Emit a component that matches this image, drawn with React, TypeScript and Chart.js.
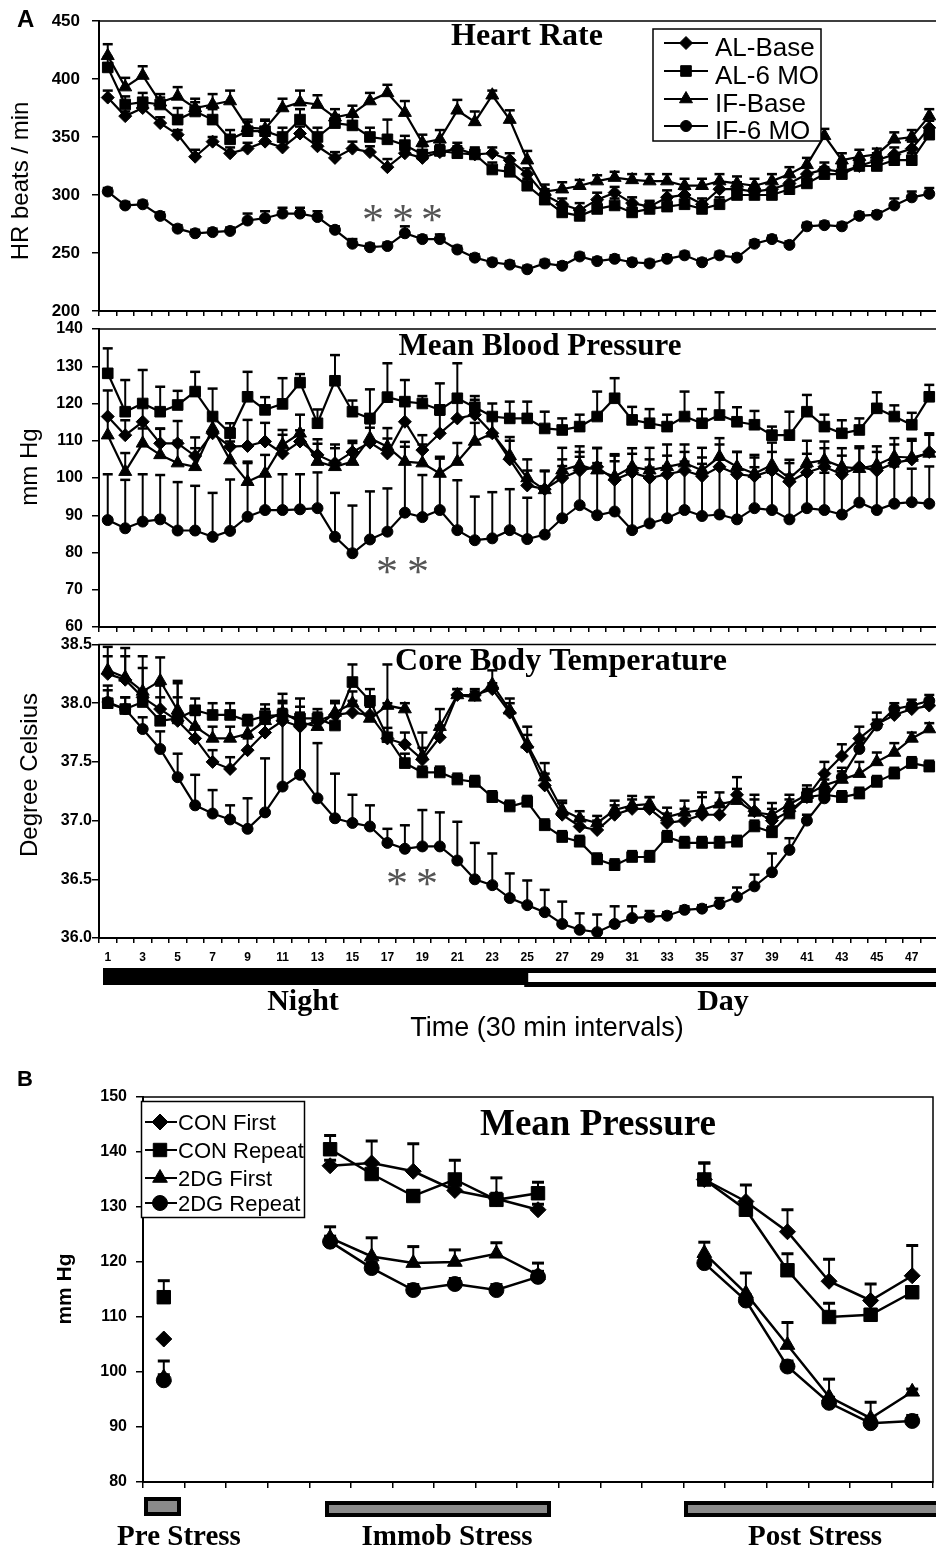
import React, { useEffect, useRef } from 'react';
import { Chart, registerables } from 'chart.js';

Chart.register(...registerables);

const SANS = '"Liberation Sans", Arial, Helvetica, sans-serif';
const SERIF = '"Liberation Serif", "Times New Roman", Times, serif';
Chart.defaults.font.family = SANS;

// ---------------- Panel A data ----------------
const timeLabels = ['1', '2', '3', '4', '5', '6', '7', '8', '9', '10', '11', '12', '13', '14', '15', '16', '17', '18', '19', '20', '21', '22', '23', '24', '25', '26', '27', '28', '29', '30', '31', '32', '33', '34', '35', '36', '37', '38', '39', '40', '41', '42', '43', '44', '45', '46', '47', '48'];
const seriesA = ['AL-Base', 'AL-6 MO', 'IF-Base', 'IF-6 MO'];

// Heart rate (beats / min)
const hrALBase = [384, 368, 375, 362, 352, 333, 346, 336, 340, 346, 341, 353, 342, 332, 340, 337, 324, 336, 332, 337, 340, 335, 336, 330, 318, 300, 292, 287, 296, 302, 293, 290, 298, 300, 292, 305, 305, 303, 305, 310, 318, 322, 320, 325, 330, 335, 340, 358];
const hrALBaseErr = [6, 4, 5, 5, 4, 6, 4, 5, 5, 6, 5, 6, 5, 5, 6, 5, 7, 5, 5, 6, 5, 5, 5, 6, 5, 5, 5, 6, 6, 5, 5, 5, 6, 5, 5, 6, 6, 5, 6, 6, 6, 6, 6, 6, 6, 6, 6, 6];
const hrAL6MO = [410, 378, 380, 378, 365, 372, 365, 348, 355, 355, 350, 365, 350, 362, 360, 350, 348, 343, 335, 338, 336, 335, 322, 320, 308, 296, 285, 282, 288, 291, 285, 288, 290, 292, 288, 292, 300, 300, 300, 305, 310, 318, 318, 325, 325, 330, 330, 352];
const hrAL6MOErr = [9, 7, 8, 6, 10, 8, 9, 8, 8, 9, 8, 9, 8, 7, 8, 8, 17, 8, 7, 8, 6, 6, 6, 6, 6, 6, 6, 6, 6, 6, 6, 6, 6, 6, 6, 6, 6, 6, 6, 6, 6, 6, 6, 6, 6, 6, 6, 6];
const hrIFBase = [420, 393, 403, 380, 385, 375, 378, 381, 358, 357, 375, 380, 378, 367, 370, 381, 388, 371, 345, 348, 373, 363, 386, 365, 330, 303, 305, 308, 312, 315, 313, 312, 312, 308, 308, 312, 310, 308, 312, 318, 326, 351, 330, 333, 335, 348, 350, 368];
const hrIFBaseErr = [10, 8, 8, 7, 8, 8, 9, 9, 7, 8, 8, 10, 8, 7, 7, 7, 7, 10, 7, 8, 9, 9, 4, 8, 8, 6, 6, 5, 5, 5, 5, 6, 6, 6, 6, 6, 6, 6, 6, 6, 6, 6, 6, 6, 5, 6, 6, 6];
const hrIF6MO = [303, 291, 292, 282, 271, 267, 268, 269, 278, 280, 284, 284, 281, 270, 258, 255, 256, 267, 262, 262, 253, 246, 242, 240, 236, 241, 239, 247, 243, 245, 242, 241, 245, 248, 242, 248, 246, 258, 262, 257, 273, 274, 273, 282, 283, 291, 298, 301];
const hrIF6MOErr = [3, 3, 3, 3, 3, 3, 3, 3, 6, 6, 5, 5, 5, 3, 4, 3, 3, 6, 3, 4, 3, 3, 3, 3, 3, 3, 3, 3, 3, 3, 3, 3, 3, 3, 3, 3, 3, 3, 3, 3, 3, 3, 3, 3, 3, 6, 5, 5];

// Mean blood pressure (mm Hg)
const bpALBase = [116.5, 111.5, 115.1, 109.3, 109.3, 105.9, 112, 108.4, 108.6, 109.8, 106.6, 109.8, 106.2, 104, 107, 109.5, 106.6, 115.1, 107.5, 112, 116, 117, 112, 105, 98, 97, 100, 102, 103, 99.5, 101.5, 100, 101, 102, 100.5, 103, 101, 100.5, 102, 99, 101.5, 103, 101, 103, 102, 104, 105, 107];
const bpALBaseErr = [7, 4, 5, 4, 6, 5, 4, 5, 7, 5, 5, 3, 3, 4, 3, 4, 4, 6, 4, 5, 6, 4, 5, 5, 4, 5, 5, 5, 5, 5, 5, 5, 5, 5, 5, 6, 6, 5, 5, 5, 5, 5, 5, 5, 5, 5, 5, 5];
const bpAL6MO = [128.1, 117.8, 120, 117.8, 119.6, 123.2, 116.5, 112, 121.8, 118.3, 119.9, 125.6, 114.7, 126.1, 117.8, 116, 121.7, 120.5, 120, 118.3, 121.4, 119, 116.5, 116, 116, 113.3, 112.9, 113.8, 116.5, 121.4, 115.6, 114.7, 113.8, 116.5, 114.7, 116.9, 115.1, 114.3, 111.5, 111.5, 117.8, 113.8, 112, 112.9, 118.7, 116.5, 114.3, 121.8];
const bpAL6MOErr = [6.7, 8.5, 9, 6.7, 3.8, 5.3, 7.5, 2.7, 6.7, 3.4, 6.9, 2.3, 3.7, 6.9, 3, 7.8, 9.1, 5.8, 2, 7.1, 9.4, 3, 3.5, 4.5, 4.5, 4.5, 3.1, 3.2, 6.7, 5.4, 3.5, 3.8, 3.2, 6.7, 3.8, 6.1, 3.9, 3.7, 2.3, 6.3, 4.5, 3.2, 3.5, 3.1, 4.3, 3, 3.2, 3.2];
const bpIFBase = [111.5, 101.7, 109.3, 106.2, 104, 103, 113.3, 104.8, 99, 101.2, 108.9, 112, 104.4, 103, 104.4, 110.7, 108.4, 104.4, 104, 101.2, 104.4, 109.8, 112, 106, 100, 96.8, 102.1, 103.5, 102.1, 100.4, 103, 102.1, 103, 104, 102.1, 105.7, 103, 101.2, 103.5, 99.9, 104, 104.8, 103, 102.5, 103.5, 105.7, 105.5, 106.6];
const bpIFBaseErr = [5, 5, 4, 7, 6, 5, 4, 5, 5, 5, 4, 5, 6, 6, 5, 4, 5, 4, 5, 4, 5, 5, 5, 5, 5, 5, 6, 5, 6, 6, 5, 6, 6, 5, 6, 5, 4, 5, 6, 5, 6, 5, 5, 6, 5, 5, 5, 5];
const bpIF6MO = [88.7, 86.5, 88.3, 88.9, 85.9, 85.9, 84.2, 85.8, 89.6, 91.4, 91.4, 91.6, 91.9, 84.2, 79.8, 83.5, 85.6, 90.7, 89.5, 91.4, 86, 83.3, 83.8, 86, 83.6, 84.8, 89.2, 92.7, 90, 91, 86, 87.8, 89.2, 91.4, 89.8, 90.2, 88.9, 91.9, 91.4, 88.9, 91.9, 91.4, 90.2, 93.4, 91.4, 93.1, 93.5, 93.1];
const bpIF6MOErr = [12.3, 13, 12.7, 11.9, 13, 12, 11.8, 13.8, 14.8, 9.6, 9.6, 9.4, 9.6, 11.8, 12.8, 12.9, 11.6, 19, 11.3, 14.3, 13.4, 11.7, 12.4, 11, 11.1, 13, 14, 13, 14, 15, 17, 15, 14, 13, 14, 13, 14, 11, 10, 12, 11, 10, 11, 9, 12, 10, 9, 10];

// Core body temperature (degree Celsius)
const tALBase = [38.25, 38.2, 38.05, 37.95, 37.85, 37.7, 37.5, 37.44, 37.6, 37.75, 37.85, 37.8, 37.85, 37.9, 37.92, 37.9, 37.7, 37.65, 37.52, 37.71, 38.07, 38.07, 38.12, 37.92, 37.63, 37.3, 37.05, 36.95, 36.92, 37.05, 37.1, 37.1, 36.98, 37, 37.05, 37.05, 37.22, 37.08, 37, 37.08, 37.2, 37.4, 37.55, 37.7, 37.82, 37.9, 37.95, 37.98];
const tALBaseErr = [0.15, 0.2, 0.25, 0.2, 0.2, 0.1, 0.1, 0.1, 0.1, 0.1, 0.1, 0.1, 0.1, 0.1, 0.1, 0.1, 0.3, 0.1, 0.1, 0.1, 0.05, 0.05, 0.05, 0.08, 0.1, 0.1, 0.1, 0.08, 0.08, 0.08, 0.08, 0.1, 0.08, 0.1, 0.15, 0.1, 0.15, 0.1, 0.1, 0.1, 0.1, 0.1, 0.1, 0.1, 0.1, 0.05, 0.05, 0.05];
const tAL6MO = [38, 37.95, 38.01, 37.85, 37.87, 37.94, 37.9, 37.9, 37.85, 37.89, 37.9, 37.87, 37.87, 37.81, 38.18, 38.02, 37.71, 37.49, 37.41, 37.41, 37.35, 37.33, 37.2, 37.12, 37.16, 36.96, 36.86, 36.82, 36.67, 36.62, 36.69, 36.69, 36.86, 36.81, 36.81, 36.81, 36.82, 36.95, 36.9, 37.06, 37.2, 37.22, 37.2, 37.23, 37.33, 37.4, 37.49, 37.46];
const tAL6MOErr = [0.15, 0.1, 0.1, 0.2, 0.3, 0.1, 0.1, 0.1, 0.05, 0.1, 0.1, 0.05, 0.05, 0.08, 0.15, 0.1, 0.08, 0.08, 0.05, 0.05, 0.05, 0.05, 0.05, 0.05, 0.05, 0.05, 0.05, 0.05, 0.05, 0.05, 0.05, 0.05, 0.05, 0.05, 0.05, 0.05, 0.05, 0.05, 0.05, 0.05, 0.05, 0.05, 0.05, 0.05, 0.05, 0.05, 0.05, 0.05];
const tIFBase = [38.28, 38.22, 38.1, 38.19, 37.94, 37.8, 37.7, 37.7, 37.74, 37.85, 37.92, 37.84, 37.8, 37.92, 38, 37.87, 37.98, 37.95, 37.55, 37.8, 38.07, 38.05, 38.16, 37.94, 37.65, 37.37, 37.09, 37.02, 36.98, 37.09, 37.13, 37.14, 37.03, 37.07, 37.09, 37.14, 37.17, 37.07, 37.05, 37.14, 37.22, 37.3, 37.35, 37.4, 37.5, 37.58, 37.7, 37.78];
const tIFBaseErr = [0.2, 0.25, 0.3, 0.2, 0.25, 0.1, 0.1, 0.1, 0.1, 0.1, 0.1, 0.2, 0.1, 0.1, 0.1, 0.1, 0.35, 0.05, 0.2, 0.15, 0.05, 0.05, 0.12, 0.1, 0.15, 0.12, 0.08, 0.06, 0.06, 0.08, 0.08, 0.06, 0.08, 0.1, 0.15, 0.1, 0.1, 0.15, 0.1, 0.08, 0.05, 0.05, 0.1, 0.1, 0.08, 0.08, 0.05, 0.05];
const tIF6MO = [38.01, 37.95, 37.78, 37.61, 37.37, 37.13, 37.06, 37.01, 36.93, 37.07, 37.29, 37.39, 37.19, 37.02, 36.98, 36.95, 36.81, 36.76, 36.78, 36.78, 36.66, 36.5, 36.45, 36.34, 36.28, 36.22, 36.12, 36.07, 36.05, 36.12, 36.17, 36.18, 36.19, 36.24, 36.25, 36.29, 36.35, 36.44, 36.56, 36.75, 37, 37.19, 37.37, 37.61, 37.81, 37.95, 37.98, 38.02];
const tIF6MOErr = [0.1, 0.1, 0.1, 0.15, 0.2, 0.26, 0.2, 0.12, 0.26, 0.46, 0.79, 0.58, 0.47, 0.38, 0.24, 0.18, 0.12, 0.2, 0.31, 0.29, 0.33, 0.31, 0.27, 0.21, 0.21, 0.19, 0.19, 0.14, 0.15, 0.15, 0.1, 0.05, 0.03, 0.03, 0.03, 0.05, 0.08, 0.1, 0.16, 0.1, 0.05, 0.05, 0.05, 0.05, 0.05, 0.05, 0.05, 0.05];

// ---------------- Panel B data ----------------
const stressCats = ['Pre', 'g1', 'g2', 'g3', 'I1', 'I2', 'I3', 'I4', 'I5', 'I6', 'g4', 'g5', 'g6', 'P1', 'P2', 'P3', 'P4', 'P5', 'P6'];
const seriesB = ['CON First', 'CON Repeat', '2DG First', '2DG Repeat'];
const bConFirst = [106, null, null, null, 137.5, 138, 136.5, 133, 131.5, 129.5, null, null, null, 135, 131, 125.5, 116.5, 113, 117.5];
const bConFirstErr = [0, null, null, null, 1, 4, 5, 1, 1, 1, null, null, null, 3, 3, 4, 4, 3, 5.5];
const bConRepeat = [113.6, null, null, null, 140.5, 136, 132, 135, 131.3, 132.5, null, null, null, 135, 129.5, 118.5, 110, 110.4, 114.5];
const bConRepeatErr = [3, null, null, null, 2.5, 2, 1, 3.5, 4, 2, null, null, null, 3, 1, 3, 2.5, 1, 1];
const b2dgFirst = [99, null, null, null, 124.4, 121, 119.8, 120, 121.5, 117.6, null, null, null, 121.6, 114.3, 104.9, 95.5, 91.6, 96.4];
const b2dgFirstErr = [3, null, null, null, 2, 3.4, 3, 2.2, 2, 2.2, null, null, null, 2, 3.7, 4.1, 3.2, 2.9, 0.5];
const b2dgRepeat = [98.5, null, null, null, 123.7, 118.9, 114.9, 116, 114.9, 117.3, null, null, null, 119.8, 113, 101, 94.4, 90.7, 91.1];
const b2dgRepeatErr = [1, null, null, null, 1, 1, 1, 1, 1, 1, null, null, null, 1, 1, 1, 1, 1, 1];

// ---------------- helpers ----------------
function ds(label: string, data: any[], errors: any[], style: string, r: number, width = 2) {
  return {
    label, data, errors,
    pointStyle: style, pointRadius: r, pointHoverRadius: r,
    pointBackgroundColor: '#000', pointBorderColor: '#000', pointBorderWidth: 1,
    borderColor: '#000', backgroundColor: '#000', borderWidth: width,
    tension: 0, fill: false, spanGaps: false,
  };
}

function drawMarker(ctx: any, style: string, r: number, x: number, y: number) {
  ctx.beginPath();
  if (style === 'circle') {
    ctx.arc(x, y, r, 0, Math.PI * 2);
  } else if (style === 'rect') {
    const s = r * Math.SQRT1_2;
    ctx.rect(x - s, y - s, 2 * s, 2 * s);
  } else if (style === 'rectRot') {
    ctx.moveTo(x - r, y); ctx.lineTo(x, y - r); ctx.lineTo(x + r, y); ctx.lineTo(x, y + r); ctx.closePath();
  } else {
    ctx.moveTo(x, y - r);
    ctx.lineTo(x + r * Math.sin((2 * Math.PI) / 3), y - r * Math.cos((2 * Math.PI) / 3));
    ctx.lineTo(x + r * Math.sin((4 * Math.PI) / 3), y - r * Math.cos((4 * Math.PI) / 3));
    ctx.closePath();
  }
  ctx.fill();
  ctx.stroke();
}

function txt(ctx: any, s: string, x: number, y: number, font: string, align = 'center', color = '#000') {
  ctx.save();
  ctx.font = font; ctx.fillStyle = color; ctx.textAlign = align; ctx.textBaseline = 'alphabetic';
  ctx.fillText(s, x, y);
  ctx.restore();
}

function vtxt(ctx: any, s: string, x: number, y: number, font: string) {
  ctx.save();
  ctx.translate(x, y); ctx.rotate(-Math.PI / 2);
  ctx.font = font; ctx.fillStyle = '#000'; ctx.textAlign = 'center'; ctx.textBaseline = 'middle';
  ctx.fillText(s, 0, 0);
  ctx.restore();
}

function star(ctx: any, x: number, y: number) {
  ctx.save();
  ctx.font = `44px ${SERIF}`; ctx.fillStyle = '#555'; ctx.textAlign = 'center'; ctx.textBaseline = 'alphabetic';
  const m = ctx.measureText('*');
  const by = y + (m.actualBoundingBoxAscent - m.actualBoundingBoxDescent) / 2;
  ctx.fillText('*', x, by);
  ctx.restore();
}

function drawLegend(chart: any, box: number[], rows: number[], lx1: number, lx2: number, mx: number, tx: number, tdy: number, font: string) {
  const ctx = chart.ctx;
  ctx.save();
  ctx.fillStyle = '#fff';
  ctx.fillRect(box[0], box[1], box[2], box[3]);
  ctx.strokeStyle = '#000'; ctx.lineWidth = 1.5;
  ctx.strokeRect(box[0], box[1], box[2], box[3]);
  chart.data.datasets.forEach((d: any, i: number) => {
    const y = rows[i];
    ctx.strokeStyle = '#000'; ctx.fillStyle = '#000'; ctx.lineWidth = 2;
    ctx.beginPath(); ctx.moveTo(lx1, y); ctx.lineTo(lx2, y); ctx.stroke();
    ctx.lineWidth = 1;
    drawMarker(ctx, d.pointStyle, d.pointRadius, mx, y);
    txt(ctx, d.label, tx, y + tdy, font, 'left');
  });
  ctx.restore();
}

const errorBarsPlugin = {
  id: 'errorBars',
  beforeDatasetsDraw(chart: any, _args: any, opts: any) {
    const ctx = chart.ctx;
    const ys = chart.scales.y;
    ctx.save();
    ctx.strokeStyle = '#000';
    chart.data.datasets.forEach((d: any, di: number) => {
      const errs = d.errors;
      if (!errs) return;
      const meta = chart.getDatasetMeta(di);
      meta.data.forEach((pt: any, j: number) => {
        const v = d.data[j];
        const e = errs[j];
        if (v == null || !e) return;
        const x = pt.x;
        const y0 = ys.getPixelForValue(v);
        const y1 = ys.getPixelForValue(v + e);
        ctx.lineWidth = opts.stem || 2;
        ctx.beginPath(); ctx.moveTo(x, y0); ctx.lineTo(x, y1); ctx.stroke();
        ctx.lineWidth = opts.thick || 2.5;
        const c = (opts.cap || 10) / 2;
        ctx.beginPath(); ctx.moveTo(x - c, y1); ctx.lineTo(x + c, y1); ctx.stroke();
      });
    });
    ctx.restore();
  },
};

const framePlugin = {
  id: 'frame',
  afterDraw(chart: any) {
    const { left, top, right, bottom } = chart.chartArea;
    const ctx = chart.ctx;
    ctx.save();
    ctx.strokeStyle = '#000'; ctx.lineWidth = 1.5;
    ctx.strokeRect(left, top, right - left, bottom - top);
    ctx.restore();
  },
};

function xAxisA(showLabels: boolean, height: number) {
  return {
    type: 'category',
    offset: true,
    grid: { offset: true, drawOnChartArea: false, drawTicks: true, tickLength: 5, color: '#000', lineWidth: 1.5 },
    border: { display: true, color: '#000', width: 2 },
    ticks: {
      display: showLabels, autoSkip: false, maxRotation: 0, minRotation: 0, padding: 7, color: '#000',
      font: { family: SANS, size: 12, weight: 'bold' },
      callback: (_v: any, i: number) => (i % 2 === 0 ? timeLabels[i] : ''),
    },
    afterFit: (s: any) => { s.height = height; s.paddingLeft = 0; s.paddingRight = 0; },
  };
}

function yAxis(min: number, max: number, step: number, width: number, size: number, pad: number, fmt?: any) {
  return {
    type: 'linear', min, max,
    grid: { drawOnChartArea: false, drawTicks: true, tickLength: 7, color: '#000', lineWidth: 1.5 },
    border: { display: true, color: '#000', width: 2 },
    ticks: {
      stepSize: step, padding: pad, color: '#000',
      font: { family: SANS, size, weight: 'bold' },
      callback: fmt || ((v: any) => String(v)),
    },
    afterFit: (s: any) => { s.width = width; s.paddingTop = 0; s.paddingBottom = 0; },
  };
}

function baseOptions(padTop: number, padRight: number, x: any, y: any, eb: any) {
  return {
    responsive: false, maintainAspectRatio: false, animation: false, events: [],
    layout: { padding: { top: padTop, right: padRight, left: 0, bottom: 0 } },
    plugins: { legend: { display: false }, tooltip: { enabled: false }, title: { display: false }, errorBars: eb },
    scales: { x, y },
  };
}

const ebA = { cap: 10, stem: 2, thick: 2.5 };

function datasetsA(a: number[], ae: number[], b: number[], be: number[], c: number[], ce: number[], d: number[], de: number[]) {
  return [
    ds(seriesA[0], a, ae, 'rectRot', 6.5, 2.2),
    ds(seriesA[1], b, be, 'rect', 7.5, 2.2),
    ds(seriesA[2], c, ce, 'triangle', 7.5, 2.2),
    ds(seriesA[3], d, de, 'circle', 5.5, 2.2),
  ];
}

function makeHR(canvas: HTMLCanvasElement) {
  return new Chart(canvas, {
    type: 'line',
    data: { labels: timeLabels, datasets: datasetsA(hrALBase, hrALBaseErr, hrAL6MO, hrAL6MOErr, hrIFBase, hrIFBaseErr, hrIF6MO, hrIF6MOErr) },
    options: baseOptions(21, 22, xAxisA(false, 9), yAxis(200, 450, 50, 99, 17, 12), ebA) as any,
    plugins: [errorBarsPlugin, framePlugin, {
      id: 'hrDecor',
      afterDraw(chart: any) {
        const ctx = chart.ctx;
        txt(ctx, 'A', 17, 27, `bold 24px ${SANS}`, 'left');
        txt(ctx, 'Heart Rate', 527, 45, `bold 32px ${SERIF}`);
        vtxt(ctx, 'HR beats / min', 21, 181, `24px ${SANS}`);
        star(ctx, 373, 213); star(ctx, 403, 213); star(ctx, 432, 213);
        drawLegend(chart, [653, 29, 168, 112], [43, 71, 99, 126], 664, 708, 686, 715, 13, `26px ${SANS}`);
      },
    }],
  } as any);
}

function makeBP(canvas: HTMLCanvasElement) {
  return new Chart(canvas, {
    type: 'line',
    data: { labels: timeLabels, datasets: datasetsA(bpALBase, bpALBaseErr, bpAL6MO, bpAL6MOErr, bpIFBase, bpIFBaseErr, bpIF6MO, bpIF6MOErr) },
    options: baseOptions(9, 22, xAxisA(false, 9), yAxis(60, 140, 10, 99, 16, 9), ebA) as any,
    plugins: [errorBarsPlugin, framePlugin, {
      id: 'bpDecor',
      afterDraw(chart: any) {
        const ctx = chart.ctx;
        txt(ctx, 'Mean Blood Pressure', 540, 35, `bold 31px ${SERIF}`);
        vtxt(ctx, 'mm Hg', 30, 147, `24px ${SANS}`);
        star(ctx, 387, 245); star(ctx, 418, 245);
      },
    }],
  } as any);
}

function makeTemp(canvas: HTMLCanvasElement) {
  return new Chart(canvas, {
    type: 'line',
    data: { labels: timeLabels, datasets: datasetsA(tALBase, tALBaseErr, tAL6MO, tAL6MOErr, tIFBase, tIFBaseErr, tIF6MO, tIF6MOErr) },
    options: baseOptions(8, 22, xAxisA(true, 118), yAxis(36, 38.5, 0.5, 99, 16, 0, (v: any) => Number(v).toFixed(1)), ebA) as any,
    plugins: [errorBarsPlugin, framePlugin, {
      id: 'tDecor',
      afterDraw(chart: any) {
        const ctx = chart.ctx;
        const xs = chart.scales.x;
        const { left, right } = chart.chartArea;
        txt(ctx, 'Core Body Temperature', 561, 34, `bold 32px ${SERIF}`);
        vtxt(ctx, 'Degree Celsius', 30, 139, `24px ${SANS}`);
        star(ctx, 397, 241); star(ctx, 427, 241);
        // Night / Day bar
        const split = xs.getPixelForValue(24);
        ctx.save();
        ctx.fillStyle = '#000';
        ctx.fillRect(left + 4, 332, split - left - 4, 17);
        ctx.fillRect(split - 3, 332, right + 10 - split, 19);
        ctx.fillStyle = '#fff';
        ctx.fillRect(split + 1, 337, right + 10 - split, 9);
        ctx.restore();
        txt(ctx, 'Night', 303, 374, `bold 30px ${SERIF}`);
        txt(ctx, 'Day', 723, 374, `bold 30px ${SERIF}`);
        txt(ctx, 'Time (30 min intervals)', 547, 400, `27px ${SANS}`);
      },
    }],
  } as any);
}

function makeB(canvas: HTMLCanvasElement) {
  return new Chart(canvas, {
    type: 'line',
    data: {
      labels: stressCats,
      datasets: [
        ds(seriesB[0], bConFirst, bConFirstErr, 'rectRot', 8, 2.5),
        ds(seriesB[1], bConRepeat, bConRepeatErr, 'rect', 9.5, 2.5),
        ds(seriesB[2], b2dgFirst, b2dgFirstErr, 'triangle', 8.5, 2.5),
        ds(seriesB[3], b2dgRepeat, b2dgRepeatErr, 'circle', 7.5, 2.5),
      ],
    },
    options: baseOptions(41, 27, {
      type: 'category',
      offset: true,
      grid: { offset: true, drawOnChartArea: false, drawTicks: true, tickLength: 6, color: '#000', lineWidth: 1.5 },
      border: { display: true, color: '#000', width: 2 },
      ticks: { display: false, autoSkip: false },
      afterFit: (s: any) => { s.height = 66; s.paddingLeft = 0; s.paddingRight = 0; },
    }, yAxis(80, 150, 10, 143, 16, 9), { cap: 12, stem: 2, thick: 3 }) as any,
    plugins: [errorBarsPlugin, framePlugin, {
      id: 'bDecor',
      afterDraw(chart: any) {
        const ctx = chart.ctx;
        txt(ctx, 'B', 17, 30, `bold 22px ${SANS}`, 'left');
        txt(ctx, 'Mean Pressure', 598, 79, `bold 37px ${SERIF}`);
        vtxt(ctx, 'mm Hg', 65, 233, `bold 21px ${SANS}`);
        drawLegend(chart, [141.5, 45.5, 163, 116], [66, 94, 122, 147], 145, 177, 160, 178, 8, `22px ${SANS}`);
        const bars = [[144, 441, 37, 19], [325, 445, 226, 16], [684, 445, 280, 16]];
        ctx.save();
        bars.forEach((b) => {
          ctx.fillStyle = '#000';
          ctx.fillRect(b[0], b[1], b[2], b[3]);
          ctx.fillStyle = '#8a8a8a';
          ctx.fillRect(b[0] + 4, b[1] + 4, b[2] - 8, b[3] - 8);
        });
        ctx.restore();
        txt(ctx, 'Pre Stress', 179, 489, `bold 29px ${SERIF}`);
        txt(ctx, 'Immob Stress', 447, 489, `bold 29px ${SERIF}`);
        txt(ctx, 'Post Stress', 815, 489, `bold 29px ${SERIF}`);
      },
    }],
  } as any);
}

export default function App() {
  const hrRef = useRef<HTMLCanvasElement>(null);
  const bpRef = useRef<HTMLCanvasElement>(null);
  const tRef = useRef<HTMLCanvasElement>(null);
  const bRef = useRef<HTMLCanvasElement>(null);

  useEffect(() => {
    const charts = [
      makeHR(hrRef.current as HTMLCanvasElement),
      makeBP(bpRef.current as HTMLCanvasElement),
      makeTemp(tRef.current as HTMLCanvasElement),
      makeB(bRef.current as HTMLCanvasElement),
    ];
    return () => charts.forEach((c) => c.destroy());
  }, []);

  const cs = (top: number): React.CSSProperties => ({ position: 'absolute', left: 0, top });

  return (
    <div style={{ position: 'absolute', left: 0, top: 0, width: 936, height: 1548, overflow: 'hidden', background: '#fff' }}>
      <canvas ref={hrRef} width={960} height={320} style={cs(0)} />
      <canvas ref={bpRef} width={960} height={316} style={cs(320)} />
      <canvas ref={tRef} width={960} height={420} style={cs(636)} />
      <canvas ref={bRef} width={960} height={492} style={cs(1056)} />
    </div>
  );
}
